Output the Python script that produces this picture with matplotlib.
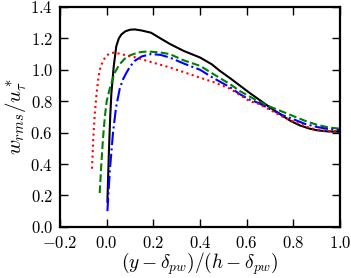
import matplotlib
matplotlib.use("Agg")
import matplotlib.pyplot as plt
from matplotlib.ticker import FuncFormatter

plt.rcParams['mathtext.fontset'] = 'cm'
plt.rcParams['font.family'] = ['DejaVu Serif']

# black solid
x_k = [0.003, 0.009, 0.015, 0.02, 0.03, 0.041, 0.052, 0.063, 0.08, 0.10, 0.12, 0.15, 0.19, 0.23,
       0.27, 0.33, 0.40, 0.45, 0.484, 0.53, 0.57, 0.612, 0.648, 0.70, 0.74, 0.787, 0.827, 0.87,
       0.90, 0.95, 1.0]
y_k = [0.16, 0.46, 0.70, 0.85, 1.02, 1.15, 1.20, 1.225, 1.245, 1.255, 1.257, 1.25, 1.236, 1.20,
       1.165, 1.12, 1.078, 1.035, 0.994, 0.945, 0.90, 0.853, 0.815, 0.76, 0.72, 0.675, 0.646, 0.625,
       0.615, 0.607, 0.605]

# green dashed
x_g = [-0.03, -0.023, -0.016, -0.008, 0.0, 0.013, 0.034, 0.055, 0.077, 0.10, 0.134, 0.16, 0.19,
       0.23, 0.27, 0.33, 0.40, 0.46, 0.527, 0.57, 0.612, 0.648, 0.70, 0.75, 0.80, 0.85, 0.90,
       0.95, 1.0]
y_g = [0.215, 0.40, 0.56, 0.70, 0.80, 0.88, 0.98, 1.035, 1.07, 1.092, 1.11, 1.115, 1.115,
       1.11, 1.10, 1.06, 1.025, 0.97, 0.91, 0.865, 0.83, 0.80, 0.765, 0.735, 0.705, 0.675, 0.65,
       0.633, 0.625]

# blue dash-dot
x_b = [0.003, 0.013, 0.027, 0.04, 0.056, 0.07, 0.084, 0.10, 0.12, 0.15, 0.19, 0.23, 0.27, 0.33,
       0.40, 0.46, 0.527, 0.57, 0.612, 0.648, 0.70, 0.755, 0.80, 0.85, 0.90, 0.95, 1.0]
y_b = [0.10, 0.35, 0.60, 0.76, 0.88, 0.94, 0.98, 1.02, 1.057, 1.085, 1.10, 1.095, 1.078, 1.04,
       1.0, 0.945, 0.89, 0.845, 0.81, 0.79, 0.75, 0.71, 0.685, 0.655, 0.636, 0.622, 0.615]

# red dotted
x_r = [-0.063, -0.058, -0.052, -0.044, -0.037, -0.03, -0.015, -0.001, 0.015, 0.034, 0.06, 0.09,
       0.12, 0.20, 0.27, 0.33, 0.40, 0.46, 0.527, 0.57, 0.612, 0.648, 0.70, 0.755, 0.80, 0.85,
       0.90, 0.95, 1.0]
y_r = [0.37, 0.55, 0.70, 0.84, 0.93, 1.0, 1.06, 1.09, 1.105, 1.11, 1.10, 1.09,
       1.08, 1.045, 1.015, 0.985, 0.95, 0.92, 0.88, 0.84, 0.80, 0.785, 0.745, 0.70, 0.67, 0.64,
       0.618, 0.61, 0.61]

fig = plt.figure(figsize=(3.51, 2.78), dpi=100)
ax = fig.add_axes([0.171, 0.184, 0.798, 0.791])

ax.plot(x_k, y_k, color='k', lw=1.5, ls='-')
ax.plot(x_g, y_g, color=(0, 0.5, 0), lw=1.5, ls='--')
ax.plot(x_b, y_b, color='b', lw=1.5, ls='-.')
ax.plot(x_r, y_r, color='r', lw=1.5, ls=':')

ax.set_xlim(-0.2, 1.0)
ax.set_ylim(0.0, 1.4)
ax.set_xticks([-0.2, 0.0, 0.2, 0.4, 0.6, 0.8, 1.0])
ax.set_yticks([0.0, 0.2, 0.4, 0.6, 0.8, 1.0, 1.2, 1.4])
fmt = FuncFormatter(lambda v, p: r'$%.1f$' % v)
ax.xaxis.set_major_formatter(fmt)
ax.yaxis.set_major_formatter(fmt)
ax.tick_params(direction='in', top=True, right=True, length=6, width=1, labelsize=12)
ax.tick_params(axis='x', pad=6)
ax.tick_params(axis='y', pad=5)
for s in ax.spines.values():
    s.set_linewidth(1.6)

ax.set_xlabel(r'$(y-\delta_{pw})/(h-\delta_{pw})$', fontsize=14, labelpad=-1)
ax.set_ylabel(r'$w_{rms}/u_\tau^*$', fontsize=15, labelpad=1)

fig.savefig('out.png', dpi=100)
